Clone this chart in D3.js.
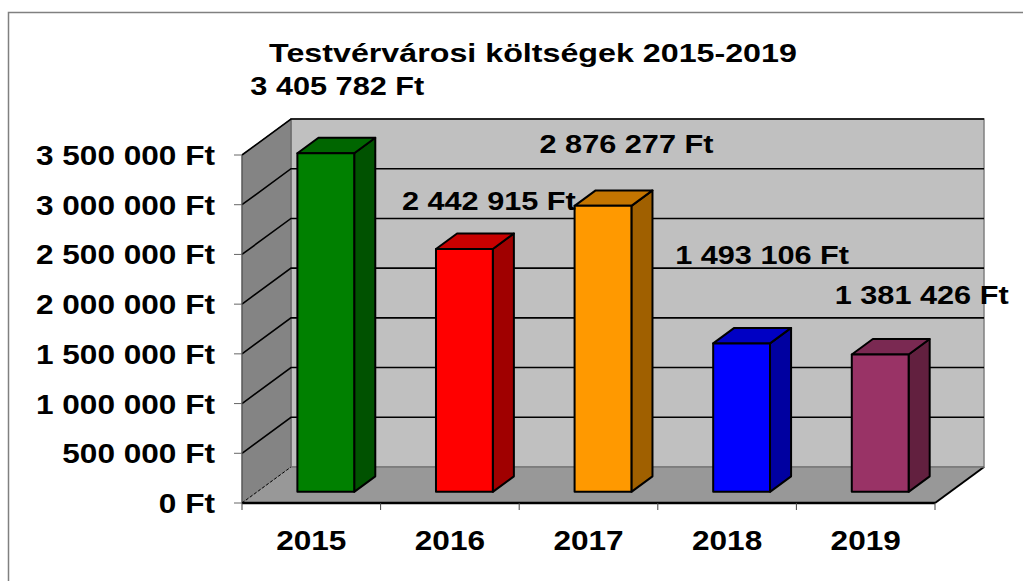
<!DOCTYPE html>
<html>
<head>
<meta charset="utf-8">
<script src="https://cdn.jsdelivr.net/npm/d3@7"></script>
<style>
  body { margin: 0; background: #fff; }
  text { font-family: "Liberation Sans", Arial, sans-serif; font-weight: bold; fill: #000; }
</style>
</head>
<body>
<div id="chart"></div>
<script>
// chart data
const years = ["2015", "2016", "2017", "2018", "2019"];
const costs = [3405782, 2442915, 2876277, 1493106, 1381426];
const frontColors = ["#008000", "#ff0000", "#ff9900", "#0000ff", "#993366"];
const topColors = ["#006600", "#c80000", "#c47500", "#0000c4", "#7a2952"];
const sideColors = ["#005200", "#a00000", "#a06000", "#0000a0", "#62203f"];
const tickValues = [0, 500000, 1000000, 1500000, 2000000, 2500000, 3000000, 3500000];
// labels were dragged around by hand in the original, so nudge them
const labelNudge = [[0, -50], [13, -31], [12, -45], [9, -71], [30, -43]];

const width = 1023, height = 581;
const DX = 49, DY = 36;   // depth of the 3d box
const barFrom = 0.29, barTo = 0.70;   // bar position inside band
const barD0 = 0.31, barD1 = 0.74;     // bar depth
// text in the original is stretched sideways
const SX = 1.18, SX_AXIS = 1.17, SX_TITLE = 1.24;

const svg = d3.select("#chart").append("svg")
    .attr("width", width)
    .attr("height", height);

const x = d3.scaleLinear().domain([0, years.length]).range([242, 935]);
const y = d3.scaleLinear().domain([0, 3500000]).range([503, 155]);

const fmt = v => d3.format(",")(v).replace(/,/g, " ") + " Ft";

function proj(u, v, d) {
    return [x(u) + d * DX, y(v) - d * DY];
}
function poly(pts) {
    return "M" + pts.map(p => p.join(",")).join("L") + "Z";
}

// outer frame
svg.append("rect")
    .attr("x", 8.5).attr("y", 12.5)
    .attr("width", 1030).attr("height", 600)
    .attr("fill", "none")
    .attr("stroke", "#808080")
    .attr("stroke-width", 1.5);

const vMax = y.domain()[1], uMax = years.length;

// back wall
svg.append("path")
    .attr("d", poly([proj(0, 0, 1), proj(uMax, 0, 1), proj(uMax, vMax, 1), proj(0, vMax, 1)]))
    .attr("fill", "#c0c0c0")
    .attr("stroke", "#808080")
    .attr("stroke-width", 1.5);

// left wall
svg.append("path")
    .attr("d", poly([proj(0, 0, 0), proj(0, 0, 1), proj(0, vMax, 1), proj(0, vMax, 0)]))
    .attr("fill", "#848484")
    .attr("stroke", "#606060")
    .attr("stroke-width", 1);

// floor
svg.append("path")
    .attr("d", poly([proj(0, 0, 0), proj(uMax, 0, 0), proj(uMax, 0, 1), proj(0, 0, 1)]))
    .attr("fill", "#989898");

// gridlines on back wall and left wall
tickValues.filter(v => v > 0).forEach(v => {
    svg.append("path")
        .attr("d", "M" + proj(0, v, 0) + "L" + proj(0, v, 1) + "L" + proj(uMax, v, 1))
        .attr("fill", "none")
        .attr("stroke", "#000")
        .attr("stroke-width", 1.6);
});

// floor edges
svg.append("line")
    .attr("x1", proj(0, 0, 0)[0]).attr("y1", proj(0, 0, 0)[1])
    .attr("x2", proj(0, 0, 1)[0]).attr("y2", proj(0, 0, 1)[1])
    .attr("stroke", "#000").attr("stroke-width", 1)
    .attr("stroke-dasharray", "3,2");
svg.append("line")
    .attr("x1", proj(uMax, 0, 0)[0]).attr("y1", proj(uMax, 0, 0)[1])
    .attr("x2", proj(uMax, 0, 1)[0]).attr("y2", proj(uMax, 0, 1)[1])
    .attr("stroke", "#000").attr("stroke-width", 2);
svg.append("line")
    .attr("x1", proj(0, 0, 1)[0]).attr("y1", proj(0, 0, 1)[1])
    .attr("x2", proj(uMax, 0, 1)[0]).attr("y2", proj(uMax, 0, 1)[1])
    .attr("stroke", "#777").attr("stroke-width", 1.5);

// bars
years.forEach((yr, i) => {
    const v = costs[i];
    const u0 = i + barFrom, u1 = i + barTo;
    const g = svg.append("g")
        .attr("stroke", "#000")
        .attr("stroke-width", 2)
        .attr("stroke-linejoin", "round");
    // right side
    g.append("path")
        .attr("d", poly([proj(u1, 0, barD0), proj(u1, 0, barD1), proj(u1, v, barD1), proj(u1, v, barD0)]))
        .attr("fill", sideColors[i]);
    // top
    g.append("path")
        .attr("d", poly([proj(u0, v, barD0), proj(u1, v, barD0), proj(u1, v, barD1), proj(u0, v, barD1)]))
        .attr("fill", topColors[i]);
    // front
    g.append("path")
        .attr("d", poly([proj(u0, 0, barD0), proj(u1, 0, barD0), proj(u1, v, barD0), proj(u0, v, barD0)]))
        .attr("fill", frontColors[i]);
});

// y axis
svg.append("line")
    .attr("x1", x(0)).attr("y1", y(0))
    .attr("x2", x(0)).attr("y2", y(vMax))
    .attr("stroke", "#555").attr("stroke-width", 1);

const yAxis = svg.append("g");
tickValues.forEach(v => {
    yAxis.append("line")
        .attr("x1", x(0) - 8).attr("x2", x(0))
        .attr("y1", y(v)).attr("y2", y(v))
        .attr("stroke", "#666").attr("stroke-width", 1);
    yAxis.append("text")
        .attr("transform", `translate(${x(0) - 27},${y(v) + 10}) scale(${SX_AXIS},1)`)
        .attr("text-anchor", "end")
        .style("font-size", "27px")
        .text(fmt(v));
});

// x axis
svg.append("line")
    .attr("x1", x(0)).attr("y1", y(0))
    .attr("x2", x(uMax)).attr("y2", y(0))
    .attr("stroke", "#000").attr("stroke-width", 2.5);
d3.range(uMax + 1).forEach(k => {
    svg.append("line")
        .attr("x1", x(k)).attr("x2", x(k))
        .attr("y1", y(0)).attr("y2", y(0) + 7)
        .attr("stroke", "#444").attr("stroke-width", 1);
});
years.forEach((yr, i) => {
    svg.append("text")
        .attr("transform", `translate(${x(i + 0.5)},${y(0) + 47}) scale(${SX_AXIS},1)`)
        .attr("text-anchor", "middle")
        .style("font-size", "27px")
        .text(yr);
});

// data labels
costs.forEach((v, i) => {
    const p = proj(i + 0.5, v, 0.53);
    svg.append("text")
        .attr("transform", `translate(${p[0] + labelNudge[i][0]},${p[1] + labelNudge[i][1]}) scale(${SX},1)`)
        .attr("text-anchor", "middle")
        .style("font-size", "26px")
        .text(fmt(v));
});

// title
svg.append("text")
    .attr("transform", `translate(533,62) scale(${SX_TITLE},1)`)
    .attr("text-anchor", "middle")
    .style("font-size", "26px")
    .text("Testvérvárosi költségek 2015-2019");
</script>
</body>
</html>
